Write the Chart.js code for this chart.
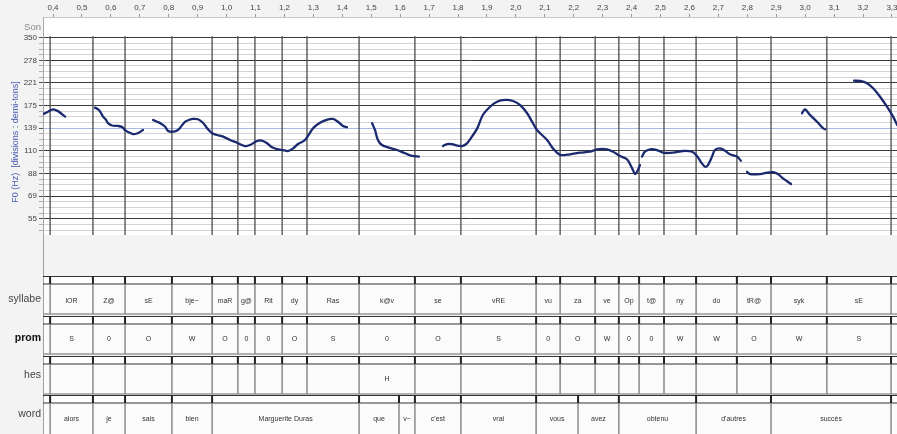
<!DOCTYPE html>
<html><head><meta charset="utf-8">
<script src="https://cdn.jsdelivr.net/npm/chart.js@4.4.0/dist/chart.umd.min.js"></script>
<style>html,body{margin:0;padding:0;background:#f3f3f3;}canvas{display:block;}</style>
</head><body>
<canvas id="c" width="897" height="434"></canvas>
<script>
// ---- data ----
const xTicks = [0.4,0.5,0.6,0.7,0.8,0.9,1.0,1.1,1.2,1.3,1.4,1.5,1.6,1.7,1.8,1.9,2.0,2.1,2.2,2.3,2.4,2.5,2.6,2.7,2.8,2.9,3.0,3.1,3.2,3.3];
const xTickLabels = ['0,4','0,5','0,6','0,7','0,8','0,9','1,0','1,1','1,2','1,3','1,4','1,5','1,6','1,7','1,8','1,9','2,0','2,1','2,2','2,3','2,4','2,5','2,6','2,7','2,8','2,9','3,0','3,1','3,2','3,3'];
const yTickLabels = ['55','69','88','110','139','175','221','278','350']; // every 4 semitones from 55 Hz
const refHz = 55;

const syllableBounds = [0.390,0.538,0.649,0.811,0.950,1.039,1.098,1.192,1.278,1.458,1.651,1.810,2.070,2.153,2.274,2.356,2.426,2.512,2.623,2.764,2.882,3.075,3.297];
const syllables = ['lOR','Z@','sE','bje~','maR','g@','Rit','dy','Ras','k@v','se','vRE','vu','za','ve','Op','t@','ny','do','tR@','syk','sE'];
const promLabels = ['S','0','O','W','O','0','0','O','S','0','O','S','0','O','W','0','0','W','W','O','W','S'];
const hesLabels = ['','','','','','','','','','H','','','','','','','','','','','',''];
const wordBounds = [0.390,0.538,0.649,0.811,0.950,1.458,1.596,1.651,1.810,2.070,2.215,2.356,2.623,2.882,3.297];
const words = ['alors','je','sais','bien','Marguerite Duras','que','v~',"c'est",'vrai','vous','avez','obtenu',"d'autres",'succès'];

// F0 contour segments: [time (s), F0 (Hz)]
const seg1 = [[0.365,160],[0.383,164],[0.400,168],[0.417,165],[0.431,160],[0.442,156]];
const seg2 = [[0.545,171],[0.556,168],[0.563,164],[0.573,156],[0.583,151],[0.590,146],[0.604,142.5],[0.625,141.8],[0.639,140.3],[0.649,136],[0.663,132.6],[0.677,130.6],[0.690,131.3],[0.701,133.3],[0.711,136]];
const seg3 = [[0.746,150.7],[0.760,148],[0.770,146],[0.787,141],[0.798,134.7],[0.815,133.7],[0.829,135.4],[0.839,139],[0.856,148],[0.874,151.5],[0.884,152.3],[0.901,151.8],[0.919,146.2],[0.932,139],[0.950,131.6],[0.967,129.3],[0.988,127.1],[1.012,122.9],[1.036,119.5],[1.064,115.5],[1.081,116.7],[1.105,121.6],[1.122,122],[1.140,118.8],[1.157,114],[1.178,111.7],[1.195,110.9],[1.212,109.8],[1.230,112.8],[1.247,117.9],[1.271,122.9],[1.299,138.5],[1.323,146.6],[1.351,151.8],[1.368,152.3],[1.385,148.1],[1.402,141.8],[1.416,140.1]];
const seg4 = [[1.503,145.7],[1.513,136.1],[1.523,122.9],[1.537,116.7],[1.558,114],[1.589,110.9],[1.617,107.3],[1.641,104.4],[1.665,103.7]];
const seg5 = [[1.748,115.5],[1.762,117.9],[1.779,117.9],[1.797,115.9],[1.814,115.5],[1.831,118.8],[1.848,127.1],[1.866,138],[1.886,158.6],[1.911,172.6],[1.935,181.7],[1.963,184.9],[1.990,183],[2.014,175.7],[2.039,161.4],[2.056,148.1],[2.073,136.1],[2.108,122.9],[2.128,112.8],[2.153,105.5],[2.187,106.2],[2.222,107.9],[2.256,109],[2.281,111.7],[2.315,111.7],[2.336,109],[2.360,104.4],[2.384,100.9],[2.402,92],[2.412,86.8],[2.422,90.5],[2.429,95.1]];
const seg6 = [[2.436,103.7],[2.446,109],[2.464,111.7],[2.488,110.9],[2.509,107.9],[2.543,107.9],[2.578,109.8],[2.609,109],[2.626,104.4],[2.643,96.8],[2.654,93.5],[2.664,95.1],[2.678,103.7],[2.688,110.9],[2.706,112.8],[2.723,110.1],[2.740,106.2],[2.764,103.7],[2.778,99.4]];
const seg7 = [[2.799,88.8],[2.809,86.8],[2.844,86.8],[2.868,88],[2.889,88.4],[2.906,86.8],[2.923,83.1],[2.951,78.4]];
const seg8 = [[2.989,161.4],[2.999,168.1],[3.017,158.6],[3.041,148.1],[3.062,138.5],[3.069,137.1]];
const seg9 = [[3.169,225.1],[3.190,224.5],[3.214,219.2],[3.235,208.3],[3.259,191.2],[3.283,172.6],[3.304,155.9],[3.318,143.2]];
const segments = [seg1,seg2,seg3,seg4,seg5,seg6,seg7,seg8,seg9];

// ---- helpers ----
const FONT = '"Liberation Sans", Arial, sans-serif';
const toSt = hz => 12 * Math.log2(hz / refHz);

const datasets = segments.map(s => ({
  data: s.map(p => ({x: p[0], y: toSt(p[1])})),
  borderColor: '#1b2a6e',
  borderWidth: 2.3,
  pointRadius: 0,
  tension: 0.3,
  borderCapStyle: 'round',
  borderJoinStyle: 'round',
  fill: false
}));

function vline(ctx, x, y1, y2, color, w) {
  ctx.strokeStyle = color; ctx.lineWidth = w;
  ctx.beginPath(); ctx.moveTo(x, y1); ctx.lineTo(x, y2); ctx.stroke();
}
function hline(ctx, x1, x2, y, color, w) {
  ctx.strokeStyle = color; ctx.lineWidth = w;
  ctx.beginPath(); ctx.moveTo(x1, y); ctx.lineTo(x2, y); ctx.stroke();
}

const tierPlugin = {
  id: 'tiers',
  beforeDraw(chart) {
    const {ctx, chartArea: a} = chart;
    ctx.save();
    ctx.fillStyle = '#f3f3f3';
    ctx.fillRect(0, 0, chart.width, chart.height);
    ctx.fillStyle = '#ffffff';
    ctx.fillRect(a.left, a.top, a.right - a.left, a.bottom - a.top);
    ctx.restore();
  },
  beforeDatasetsDraw(chart) {
    const {ctx, chartArea: a} = chart;
    const xs = chart.scales.x, ys = chart.scales.y;
    const top = ys.getPixelForValue(32) - 1.5;
    ctx.save();
    syllableBounds.forEach(b => {
      const px = xs.getPixelForValue(b);
      vline(ctx, px, top, a.bottom, '#4a4a4a', 1.3);
    });
    ctx.restore();
  },
  afterDraw(chart) {
    const {ctx, chartArea: a} = chart;
    const xs = chart.scales.x;
    const L = a.left, R = chart.width;
    ctx.save();
    vline(ctx, L + 0.5, a.bottom, chart.height, '#a0a0a0', 1);

    function drawTier(y0, bounds, labels, cellH, textY) {
      ctx.fillStyle = '#fbfbfb';
      ctx.fillRect(L + 1, y0, R - L - 1, 8 + cellH);
      ctx.fillStyle = '#ffffff';
      ctx.fillRect(L + 1, y0, R - L - 1, 8);
      hline(ctx, L, R, y0 + 0.5, '#333', 1.2);
      hline(ctx, L, R, y0 + 8, '#333', 1.2);
      hline(ctx, L, R, y0 + 8 + cellH, '#9a9a9a', 1.5);
      const pxs = bounds.map(b => xs.getPixelForValue(b));
      pxs.forEach(px => {
        vline(ctx, px, y0, y0 + 8, '#222', 2);
        vline(ctx, px, y0 + 8, y0 + 8 + cellH, '#8a8a8a', 1.5);
      });
      ctx.fillStyle = '#333';
      ctx.font = '7px ' + FONT;
      ctx.textAlign = 'center';
      ctx.textBaseline = 'middle';
      labels.forEach((t, i) => {
        if (!t) return;
        ctx.fillText(t, (pxs[i] + pxs[i + 1]) / 2, textY);
      });
    }
    drawTier(276, syllableBounds, syllables, 30, 301);
    drawTier(316, syllableBounds, promLabels, 30, 339);
    drawTier(356, syllableBounds, hesLabels, 30, 379);
    drawTier(395, wordBounds, words, 40, 419);

    ctx.textAlign = 'right';
    ctx.textBaseline = 'middle';
    ctx.fillStyle = '#444';
    ctx.font = '10.5px ' + FONT;
    ctx.fillText('syllabe', 41, 299);
    ctx.fillStyle = '#111';
    ctx.font = 'bold 10.5px ' + FONT;
    ctx.fillText('prom', 41, 338);
    ctx.fillStyle = '#444';
    ctx.font = '10.5px ' + FONT;
    ctx.fillText('hes', 41, 375);
    ctx.fillText('word', 41, 414);

    ctx.fillStyle = '#8a8a8a';
    ctx.font = '9.5px ' + FONT;
    ctx.fillText('Son', 41, 27);

    ctx.translate(16, 142);
    ctx.rotate(-Math.PI / 2);
    ctx.textAlign = 'center';
    ctx.fillStyle = '#4a5db0';
    ctx.font = '9px ' + FONT;
    ctx.fillText('F0 (Hz)  [divisions : demi-tons]', 0, 0);
    ctx.restore();
  }
};

new Chart(document.getElementById('c'), {
  type: 'line',
  data: {datasets},
  plugins: [tierPlugin],
  options: {
    responsive: false,
    animation: false,
    devicePixelRatio: 1,
    layout: {padding: {left: 0, right: 0, top: 0, bottom: 199}},
    plugins: {legend: {display: false}, tooltip: {enabled: false}},
    scales: {
      x: {
        type: 'linear', position: 'top', min: 0.3654, max: 3.3175,
        afterBuildTicks: s => { s.ticks = xTicks.map(v => ({value: v})); },
        afterFit: s => { s.height = 17; s.paddingLeft = 0; s.paddingRight = 0; },
        ticks: {autoSkip: false, maxRotation: 0, minRotation: 0, padding: 1,
          font: {size: 8, family: FONT}, color: '#444',
          callback: (v, i) => xTickLabels[i]},
        grid: {drawOnChartArea: false, tickLength: 3, color: '#999'},
        border: {display: true, color: '#c8c8c8'}
      },
      y: {
        type: 'linear', min: -2.88, max: 35.66,
        afterBuildTicks: s => {
          const t = [];
          for (let k = -2; k <= 32; k++) t.push({value: k});
          s.ticks = t;
        },
        afterFit: s => { s.width = 43; s.paddingTop = 0; s.paddingBottom = 0; },
        ticks: {autoSkip: false, padding: 2, font: {size: 8, family: FONT}, color: '#444',
          callback: v => (v >= 0 && v % 4 === 0) ? yTickLabels[v / 4] : ''},
        grid: {
          color: c => {
            const v = c.tick ? c.tick.value : 0;
            if (v === 16) return '#a9b9e3';
            return (v % 4 === 0) ? '#3a3a3a' : '#d4d4d4';
          },
          tickColor: c => {
            const v = c.tick ? c.tick.value : 0;
            return (v % 4 === 0) ? '#555' : '#b0b0b0';
          },
          lineWidth: 1,
          tickLength: 4
        },
        border: {color: '#a8a8a8'}
      }
    }
  }
});
</script>
</body></html>
